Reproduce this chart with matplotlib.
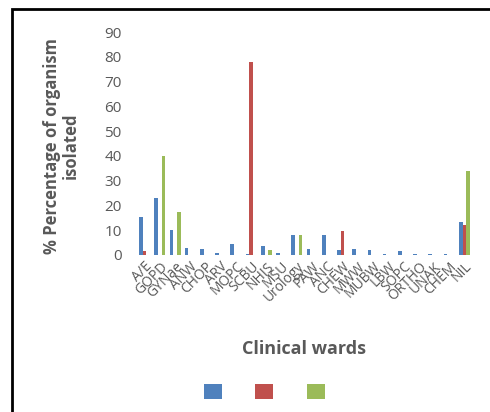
import numpy as np
import matplotlib
matplotlib.use('Agg')
from matplotlib import pyplot as plt
from matplotlib.patches import Rectangle

# Data
wards = ['A/E', 'GOPD', 'GYNae', 'ANW', 'CHOP', 'ARV', 'MOPC', 'SCBU', 'NHIS', 'MSU',
         'Urology', 'PAW', 'ANC', 'CHEW', 'MWW', 'MUBW', 'LBW', 'SOPC', 'ORTHO',
         'UNAK', 'CHEM', 'NIL']
series_blue = [15.5, 23, 10, 3, 2.5, 1, 4.5, 0.3, 3.5, 0.8, 8, 2.5, 8, 2, 2.5, 2,
               0.5, 1.5, 0.3, 0.3, 0.3, 13.5]
series_red = [1.5, 0, 0, 0, 0, 0, 0, 78, 0, 0, 0, 0, 0, 9.5, 0, 0, 0, 0, 0, 0, 0, 12]
series_green = [0, 40, 17.5, 0, 0, 0, 0, 0, 2, 0, 8, 0, 0, 0, 0, 0, 0, 0, 0, 0, 0, 34]
yticks = list(range(0, 100, 10))

colors = ['#4F81BD', '#C0504D', '#9BBB59']
grey = '#595959'
plt.rcParams['font.family'] = ['Open Sans', 'DejaVu Sans']

fig = plt.figure(figsize=(4.9, 4.12), dpi=100)
ax = fig.add_axes([137/490, 1-255/412, 335/490, 223/412])

x = np.arange(len(wards))
w = 0.24
bars = []
for i, (vals, c) in enumerate(zip([series_blue, series_red, series_green], colors)):
    bars.append(ax.bar(x + (i-1)*w, vals, width=w, color=c))

ax.set_xlim(-0.5, len(wards)-0.5)
ax.set_ylim(0, 90)
ax.set_yticks(yticks)
ax.tick_params(axis='y', length=0, pad=11, labelsize=11, labelcolor=grey)
ax.set_xticks(x)
ax.set_xticklabels(wards, rotation=45, ha='right', rotation_mode='anchor',
                   fontsize=10, color=grey)
ax.tick_params(axis='x', length=0, pad=3)
for s in ax.spines.values():
    s.set_visible(False)

ax.set_ylabel('% Percentage of organism\nisolated', fontsize=12, fontweight='bold',
              color=grey, linespacing=1.05)
ax.yaxis.set_label_coords(-0.17, 0.49)
ax.set_xlabel('Clinical wards', fontsize=13, fontweight='bold', color=grey)
ax.xaxis.set_label_coords(0.5, -0.38)

ax.legend([b[0] for b in bars], ['', '', ''], ncol=3, frameon=False,
          loc='center', bbox_to_anchor=(0.38, -0.615),
          handlelength=1.3, handleheight=1.3, handletextpad=0, columnspacing=2.4)

fig.add_artist(Rectangle((12/490, -0.1), 1.2, 1-9/412+0.1, transform=fig.transFigure,
                         fill=False, edgecolor='black', linewidth=2))

fig.savefig('out.png', dpi=100)
